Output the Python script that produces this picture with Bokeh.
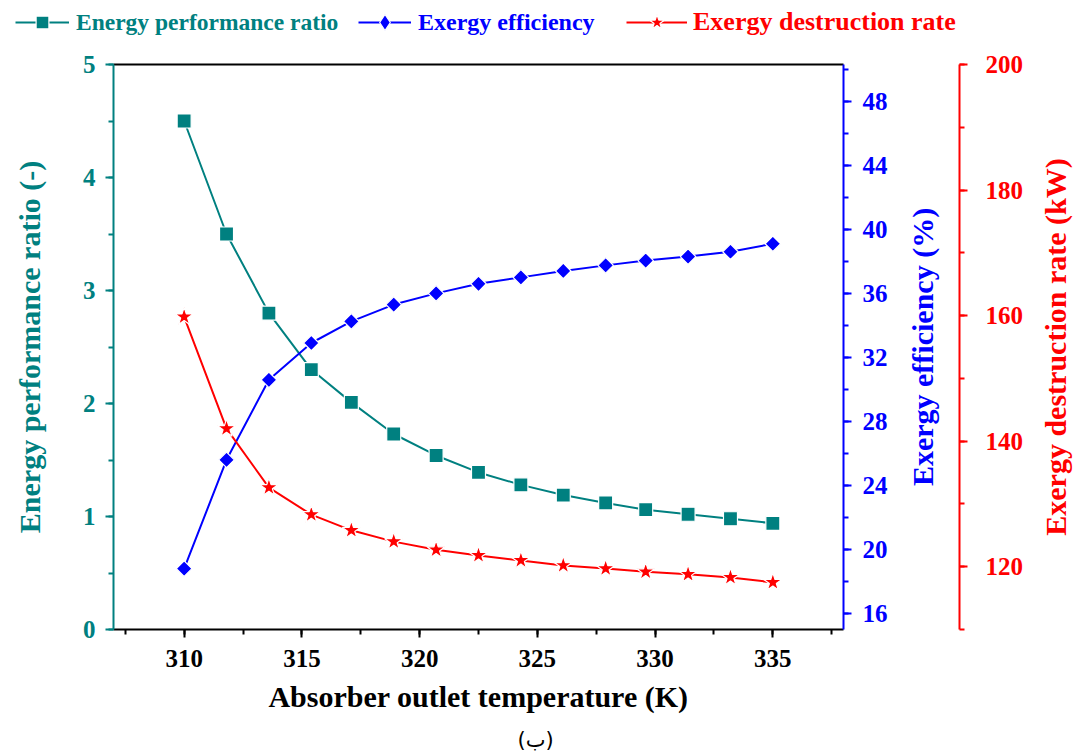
import math
from bokeh.plotting import figure
from bokeh.layouts import row
from bokeh.models import (Range1d, LinearAxis, SingleIntervalTicker, FixedTicker,
                          Legend, LegendItem, Label)
from bokeh.embed import file_html
from bokeh.resources import INLINE

# Absorber outlet temperature (K)
temperature = [310.0, 311.8, 313.6, 315.4, 317.1, 318.9, 320.7, 322.5,
               324.3, 326.1, 327.9, 329.6, 331.4, 333.2, 335.0]
# Energy performance ratio (-)
energy_ratio = [4.50, 3.50, 2.80, 2.30, 2.01, 1.73, 1.54, 1.39,
                1.28, 1.19, 1.12, 1.06, 1.02, 0.98, 0.94]
# Exergy efficiency (%)
exergy_eff = [18.8, 25.6, 30.6, 32.9, 34.25, 35.3, 36.0, 36.6,
              37.0, 37.4, 37.75, 38.05, 38.3, 38.6, 39.1]
# Exergy destruction rate (kW)
exergy_dest = [159.8, 142.0, 132.6, 128.3, 125.8, 124.0, 122.7, 121.8,
               121.0, 120.2, 119.7, 119.2, 118.8, 118.3, 117.5]

TEAL = "#008080"
BLUE = "#0000ff"
RED = "#ff0000"
FONT = "Liberation Serif"

EFF_RANGE = (15, 50.3)
DEST_RANGE = (110, 200)

SERIES = [
    dict(name="Energy performance ratio", y=energy_ratio, color=TEAL,
         marker="square", size=14, angle=0.0, rng="default", key_marker="square"),
    dict(name="Exergy efficiency", y=exergy_eff, color=BLUE,
         marker="square", size=11, angle=math.pi / 4, rng="eff", key_marker="diamond"),
    dict(name="Exergy destruction rate", y=exergy_dest, color=RED,
         marker="star", size=19, angle=0.0, rng="dest", key_marker="star"),
]

HEIGHT = 680
TOP, BOTTOM = 19, 96


def add_series(fig, xs, ys, s, marker=None):
    ln = fig.line(xs, ys, line_color=s["color"], line_width=2, y_range_name=s["rng"])
    mk = fig.scatter(xs, ys, marker=marker or s["marker"], size=s["size"],
                     angle=s["angle"], fill_color=s["color"], line_color="white",
                     line_width=1.2, y_range_name=s["rng"])
    return [ln, mk]


def style_axis(ax, color):
    ax.axis_line_color = color
    ax.axis_line_width = 2
    ax.major_tick_line_color = color
    ax.minor_tick_line_color = color
    ax.major_tick_line_width = 2
    ax.minor_tick_line_width = 2
    ax.major_tick_in = 0
    ax.major_tick_out = 8
    ax.minor_tick_in = 0
    ax.minor_tick_out = 5
    ax.major_label_text_color = color
    ax.major_label_text_font = FONT
    ax.major_label_text_font_style = "bold"
    ax.major_label_text_font_size = "25px"
    ax.axis_label_text_color = color
    ax.axis_label_text_font = FONT
    ax.axis_label_text_font_style = "bold"
    ax.axis_label_text_font_size = "30px"


def label_only(ax, color, standoff):
    """An axis that shows nothing but its title."""
    ax.ticker = FixedTicker(ticks=[])
    ax.axis_line_color = None
    ax.major_tick_out = 0
    ax.minor_tick_out = 0
    ax.major_tick_in = 0
    ax.minor_tick_in = 0
    ax.major_label_standoff = 0
    ax.axis_label_standoff = standoff
    ax.axis_label_text_color = color
    ax.axis_label_text_font = FONT
    ax.axis_label_text_font_style = "bold"
    ax.axis_label_text_font_size = "30px"


def top_rule(fig, color):
    ax = LinearAxis(ticker=FixedTicker(ticks=[]), major_label_text_font_size="0px")
    ax.axis_line_color = color
    ax.axis_line_width = 2
    fig.add_layout(ax, "above")


# ---------------- main chart ----------------
p = figure(width=895, height=HEIGHT, output_backend="svg", toolbar_location=None,
           x_range=Range1d(307, 338), y_range=Range1d(0, 5),
           min_border_left=113, min_border_right=52,
           min_border_top=TOP, min_border_bottom=BOTTOM)
p.outline_line_color = None
p.grid.visible = False
p.extra_y_ranges = {"eff": Range1d(*EFF_RANGE), "dest": Range1d(*DEST_RANGE)}

xa = p.xaxis[0]
xa.ticker = SingleIntervalTicker(interval=5, num_minor_ticks=2)
xa.axis_label = "Absorber outlet temperature (K)"
style_axis(xa, "black")
xa.major_label_standoff = 12
xa.axis_label_standoff = 10

ya = p.yaxis[0]
ya.ticker = SingleIntervalTicker(interval=1, num_minor_ticks=2)
ya.axis_label = "Energy performance ratio (-)"
style_axis(ya, TEAL)
ya.major_label_standoff = 10
ya.axis_label_standoff = 34

top_rule(p, "black")

eff_ax = LinearAxis(y_range_name="eff",
                    ticker=SingleIntervalTicker(interval=4, num_minor_ticks=2))
style_axis(eff_ax, BLUE)
eff_ax.major_label_standoff = 11
p.add_layout(eff_ax, "right")

for s in SERIES:
    add_series(p, temperature, s["y"], s)

# ---------------- exergy efficiency title + destruction-rate scale ----------------
p2 = figure(width=134, height=HEIGHT, output_backend="svg", toolbar_location=None,
            x_range=Range1d(0, 1), y_range=Range1d(*DEST_RANGE),
            x_axis_location=None, y_axis_location="left",
            min_border_left=63, min_border_right=70,
            min_border_top=TOP, min_border_bottom=BOTTOM)
p2.outline_line_color = None
p2.grid.visible = False
p2.yaxis[0].axis_label = "Exergy efficiency (%)"
label_only(p2.yaxis[0], BLUE, 20)
top_rule(p2, None)

dest_ax = LinearAxis(ticker=SingleIntervalTicker(interval=20, num_minor_ticks=2))
style_axis(dest_ax, RED)
dest_ax.major_label_standoff = 18
p2.add_layout(dest_ax, "right")

# ---------------- destruction-rate title ----------------
p3 = figure(width=47, height=HEIGHT, output_backend="svg", toolbar_location=None,
            x_range=Range1d(0, 1), y_range=Range1d(*DEST_RANGE),
            x_axis_location=None, y_axis_location="left",
            min_border_left=42, min_border_right=0,
            min_border_top=TOP, min_border_bottom=BOTTOM)
p3.outline_line_color = None
p3.grid.visible = False
p3.yaxis[0].axis_label = "Exergy destruction rate (kW)"
label_only(p3.yaxis[0], RED, 0)
top_rule(p3, None)

chart = row(p, p2, p3, spacing=0)

# ---------------- legend row ----------------
head = figure(width=1076, height=45, output_backend="svg", toolbar_location=None,
              x_range=Range1d(0, 1), y_range=Range1d(0, 1),
              min_border=0, outline_line_color=None)
head.axis.visible = False
head.grid.visible = False
head.extra_y_ranges = {"eff": Range1d(0, 1), "dest": Range1d(0, 1)}

legend_layout = [(15, 54, 32, 7, "23.5px"), (358, 53, 40, 7, "24px"),
                 (626, 61, 40, 6, "26px")]
for s, (lx, gw, gh, gap, fs) in zip(SERIES, legend_layout):
    # series lie outside this strip's ranges; only their legend keys show
    rends = add_series(head, temperature, s["y"], s, marker=s["key_marker"])
    lg = Legend(items=[LegendItem(label=s["name"], renderers=rends)],
                location=(lx, 23 - gh / 2), orientation="horizontal",
                padding=0, margin=0, spacing=0, border_line_color=None,
                background_fill_alpha=0, glyph_width=gw, glyph_height=gh,
                label_standoff=gap, label_height=gh,
                label_text_color=s["color"], label_text_font=FONT,
                label_text_font_style="bold", label_text_font_size=fs)
    head.add_layout(lg, "center")

# ---------------- caption ----------------
foot = figure(width=1076, height=30, output_backend="svg", toolbar_location=None,
              x_range=Range1d(0, 1), y_range=Range1d(0, 1),
              min_border=0, outline_line_color=None)
foot.axis.visible = False
foot.grid.visible = False
foot.add_layout(Label(x=535, y=16, x_units="screen", y_units="screen", text="(ب)",
                      text_align="center", text_baseline="middle",
                      text_font="DejaVu Sans", text_font_size="21px",
                      text_color="black"))

open("out.html", "w").write(file_html([head, chart, foot], INLINE))
